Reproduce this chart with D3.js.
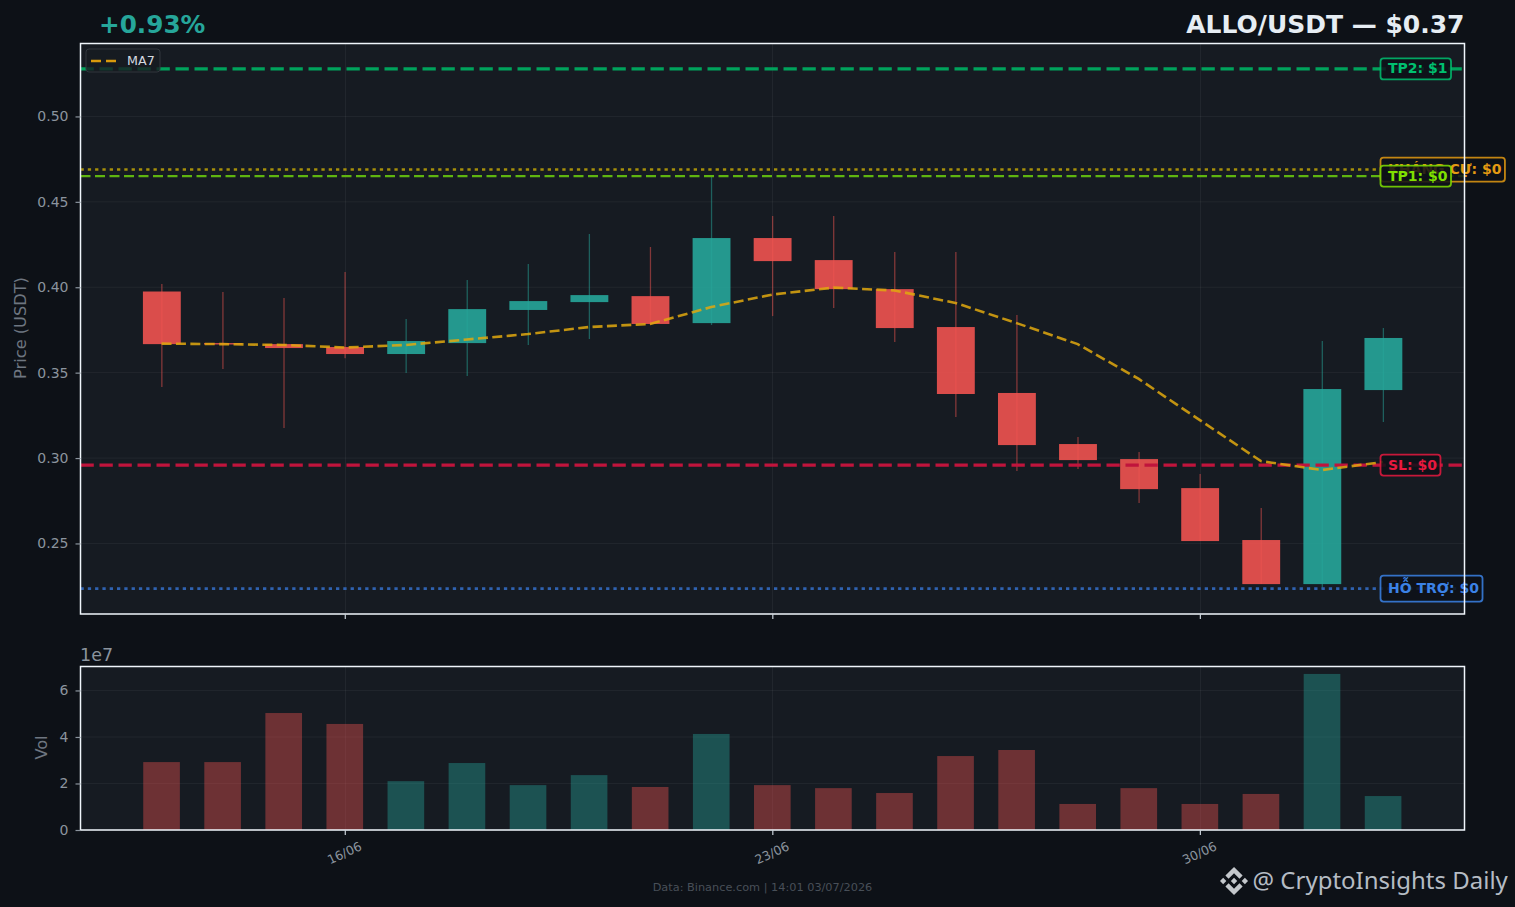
<!DOCTYPE html>
<html><head><meta charset="utf-8">
<script src="https://cdnjs.cloudflare.com/ajax/libs/d3/7.8.5/d3.min.js"></script>
<style>html,body{margin:0;padding:0;background:#0d1117;overflow:hidden}svg{display:block}text{font-family:"DejaVu Sans",sans-serif}</style>
</head><body><svg id="c" width="1515" height="907"></svg>
<script>
const opens=[.3975,.3673,.3667,.3650,.3609,.3673,.3867,.3913,.3948,.3790,.4288,.4159,.3989,.3767,.3381,.3082,.2994,.2824,.2520,.2262,.3398];
const closes=[.3667,.3665,.3644,.3609,.3685,.3872,.3919,.3954,.3785,.4288,.4153,.3989,.3761,.3375,.3076,.2988,.2818,.2514,.2262,.3404,.3703];
const highs=[.4019,.3972,.3937,.4089,.3814,.4042,.4136,.4312,.4235,.4657,.4417,.4417,.4206,.4206,.3837,.3123,.3035,.2906,.2707,.3685,.3761];
const lows=[.3416,.3521,.3176,.3585,.3498,.3480,.3662,.3697,.3779,.3779,.3831,.3878,.3679,.3240,.2924,.2936,.2737,.2514,.2262,.2233,.3211];
const volumes=[2.92,2.92,5.03,4.56,2.10,2.88,1.93,2.36,1.85,4.13,1.93,1.80,1.59,3.18,3.44,1.12,1.80,1.12,1.55,6.71,1.46];
const ma7=[.3670,.3667,.3662,.3647,.3662,.3694,.3726,.3767,.3785,.3884,.3957,.3998,.3981,.3908,.3790,.3667,.3463,.3222,.2982,.2930,.2977];
const priceTicks=[.25,.30,.35,.40,.45,.50];
const volTicks=[0,2,4,6];
const dateTickIdx=[3,10,17];
const dateTickLabels=["16/06","23/06","30/06"];
const levelNames=["TP2: $1","KHÁNG CỰ: $0","TP1: $0","SL: $0","HỖ TRỢ: $0"];
const levelValues=[.5278,.4689,.4651,.2959,.2236];
const levelColors=["#00c070","#e39a12","#7fe000","#e8193f","#3b82e6"];
const levelLineColors=["#00a35c","#a58f0a","#5fb510","#c0143c","#2f62b0"];
const levelDash=["13.3,5.7","3.3,4","10,4.5","13.3,5.7","3.3,4"];
const levelWidth=[3.3,2.5,2.3,3.3,2.7];
const levelBoxH=[21,24,21,21,26];

const L=80.5,R=1464.5,T1=43.5,B1=614,T2=666.5,B2=830;
const svg=d3.select("#c");
const defs=svg.append("defs");
svg.append("rect").attr("width",1515).attr("height",907).attr("fill","#0d1117");
defs.append("clipPath").attr("id","cp1").append("rect").attr("x",L).attr("y",T1).attr("width",R-L).attr("height",B1-T1);
defs.append("clipPath").attr("id","cp2").append("rect").attr("x",L).attr("y",T2).attr("width",R-L).attr("height",B2-T2);

const x=d3.scaleLinear().domain([-1.327,21.333]).range([L,R]);
const y=d3.scaleLinear().domain([.2087,.5427]).range([B1,T1]);
const yv=d3.scaleLinear().domain([0,7.03]).range([B2,T2]);
const UP="#26a69a",DN="#ef5350";
const idx=d3.range(opens.length);
const col=i=>closes[i]>=opens[i]?UP:DN;

function panel(T,B,ys,sc){
  svg.append("rect").attr("x",L).attr("y",T).attr("width",R-L).attr("height",B-T).attr("fill","#161b22");
  const g=svg.append("g").attr("stroke","#fff").attr("stroke-opacity",.05).attr("stroke-width",1);
  g.selectAll(".h").data(ys).join("line").attr("x1",L).attr("x2",R).attr("y1",d=>sc(d)).attr("y2",d=>sc(d));
  g.selectAll(".v").data(dateTickIdx).join("line").attr("x1",d=>Math.round(x(d))+.5).attr("x2",d=>Math.round(x(d))+.5).attr("y1",T).attr("y2",B);
}
panel(T1,B1,priceTicks,y);
panel(T2,B2,volTicks,yv);

// candles
const gc=svg.append("g").attr("clip-path","url(#cp1)");
gc.selectAll(".w").data(idx).join("line")
 .attr("x1",i=>x(i)+.3).attr("x2",i=>x(i)+.3).attr("y1",i=>y(highs[i])).attr("y2",i=>y(lows[i]))
 .attr("stroke",col).attr("stroke-opacity",.5).attr("stroke-width",1.3);
gc.selectAll(".b").data(idx).join("rect")
 .attr("x",i=>x(i-.31)+.3).attr("width",x(.62)-x(0))
 .attr("y",i=>y(Math.max(opens[i],closes[i])))
 .attr("height",i=>Math.max(1,Math.abs(y(opens[i])-y(closes[i]))))
 .attr("fill",col).attr("fill-opacity",.9);

// level lines
const gl=svg.append("g").attr("clip-path","url(#cp1)");
gl.selectAll("line").data(levelValues).join("line")
 .attr("x1",L).attr("x2",R).attr("y1",d=>y(d)).attr("y2",d=>y(d))
 .attr("stroke",(d,i)=>levelLineColors[i]).attr("stroke-width",(d,i)=>levelWidth[i]).attr("stroke-dasharray",(d,i)=>levelDash[i]);

// MA
svg.append("g").attr("clip-path","url(#cp1)").append("path").datum(ma7)
 .attr("d",d3.line().x((d,i)=>x(i)).y(d=>y(d)))
 .attr("fill","none").attr("stroke","#e0a80e").attr("stroke-opacity",.85).attr("stroke-width",2.6).attr("stroke-dasharray","10,4.4");

// level labels
const labelG=svg.append("g");
levelNames.forEach((t,i)=>{
  const g=labelG.append("g");
  const yy=y(levelValues[i]);
  const tx=g.append("text").attr("x",1388).attr("y",yy+4.5).attr("fill",levelColors[i]).attr("font-weight","bold").attr("font-size",14).text(t);
  const w=tx.node().getComputedTextLength();
  g.insert("rect","text").attr("x",1380.5).attr("y",yy-levelBoxH[i]/2).attr("width",w+11).attr("height",levelBoxH[i]).attr("rx",3)
   .attr("fill","#0d1117").attr("fill-opacity",.85).attr("stroke",levelColors[i]).attr("stroke-opacity",.85).attr("stroke-width",1.8);
});

// legend
const lg=svg.append("g");
lg.append("rect").attr("x",86).attr("y",49).attr("width",74).attr("height",23).attr("rx",3).attr("fill","#161b22").attr("fill-opacity",.8).attr("stroke","#30363d").attr("stroke-width",1);
lg.append("line").attr("x1",91).attr("x2",116).attr("y1",61).attr("y2",61).attr("stroke","#d99a0c").attr("stroke-width",2.4).attr("stroke-dasharray","10,5");
lg.append("text").attr("x",127).attr("y",65).attr("font-size",12.7).attr("fill","#d5dae0").text("MA7");

// volume
const gv=svg.append("g").attr("clip-path","url(#cp2)");
gv.selectAll("rect").data(idx).join("rect")
 .attr("x",i=>x(i-.3)).attr("width",x(.6)-x(0))
 .attr("y",i=>yv(volumes[i])).attr("height",i=>yv(0)-yv(volumes[i]))
 .attr("fill",col).attr("fill-opacity",.4);

// frames
[[T1,B1],[T2,B2]].forEach(([T,B])=>svg.append("rect").attr("x",L).attr("y",T).attr("width",R-L).attr("height",B-T).attr("fill","none").attr("stroke","#f0f6fc").attr("stroke-width",1.5));

// axes
function styleAxis(g,c){g.select(".domain").remove();g.selectAll("line").attr("stroke",c).attr("stroke-width",1.2);g.selectAll("text").attr("fill","#8b949e").attr("font-family","DejaVu Sans");}
const ay=svg.append("g").attr("transform",`translate(${L},0)`).call(d3.axisLeft(y).tickValues(priceTicks).tickFormat(d3.format(".2f")).tickSize(5).tickPadding(7));
styleAxis(ay,"#8b949e");ay.selectAll("text").attr("font-size",14);
const av=svg.append("g").attr("transform",`translate(${L},0)`).call(d3.axisLeft(yv).tickValues(volTicks).tickFormat(d3.format("d")).tickSize(5).tickPadding(7));
styleAxis(av,"#8b949e");av.selectAll("text").attr("font-size",14);
const xa1=svg.append("g").attr("transform",`translate(0,${B1})`).call(d3.axisBottom(x).tickValues(dateTickIdx).tickFormat("").tickSize(5));
styleAxis(xa1,"#c9d1d9");
const xa2=svg.append("g").attr("transform",`translate(0,${B2})`).call(d3.axisBottom(x).tickValues(dateTickIdx).tickFormat((d,i)=>dateTickLabels[i]).tickSize(5));
styleAxis(xa2,"#c9d1d9");
xa2.selectAll("text").attr("font-size",12.5).attr("text-anchor","middle").attr("y",0).attr("dy",0)
 .attr("transform","translate(1,27) rotate(-25)");

svg.append("text").attr("transform","translate(26,328) rotate(-90)").attr("text-anchor","middle").attr("font-size",16.2).attr("fill","#6e7681").text("Price (USDT)");
svg.append("text").attr("transform","translate(47,747.5) rotate(-90)").attr("text-anchor","middle").attr("font-size",16.2).attr("fill","#6e7681").text("Vol");
svg.append("text").attr("x",80).attr("y",661).attr("font-size",17.5).attr("fill","#8b949e").text("1e7");

svg.append("text").attr("x",99).attr("y",33).attr("font-size",24.7).attr("font-weight","bold").attr("fill",UP).text("+0.93%");
svg.append("text").attr("x",1464.5).attr("y",33).attr("text-anchor","end").attr("font-size",25).attr("font-weight","bold").attr("fill","#e6edf3").text("ALLO/USDT — $0.37");
svg.append("text").attr("x",762.5).attr("y",891).attr("text-anchor","middle").attr("font-size",11.3).attr("fill","#484f58").text("Data: Binance.com | 14:01 03/07/2026");

// watermark
const logo=svg.append("g").attr("transform","translate(1220,867) scale(.2215)").attr("fill","#c4c8cc");
["38.73 53.2 63.3 28.63 87.89 53.21 102.19 38.91 63.3 0 24.43 38.9 38.73 53.2","0 63.31 14.3 49.01 28.6 63.31 14.3 77.61","38.73 73.41 63.3 97.98 87.89 73.4 102.2 87.69 63.3 126.61 24.42 87.7","98.01 63.31 112.31 49 126.61 63.3 112.31 77.61","77.79 63.3 63.3 48.8 52.59 59.51 51.36 60.74 48.82 63.28 63.3 77.79 77.79 63.31"]
 .forEach(p=>logo.append("polygon").attr("points",p));
svg.append("text").attr("x",1252.5).attr("y",889).attr("font-size",24).attr("fill","#b5bcc4").style("font-family","'Noto Sans'").text("@ CryptoInsights Daily");
</script></body></html>
